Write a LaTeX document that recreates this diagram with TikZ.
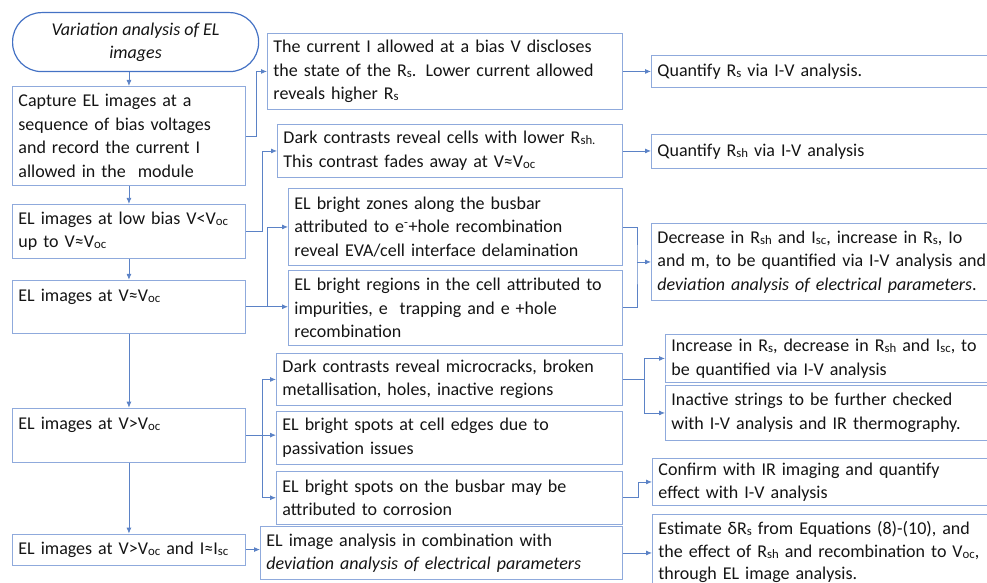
\documentclass[tikz,border=0pt]{standalone}
\usepackage{fontspec}
\setmainfont{Carlito}
\usepackage{xcolor}
\usepackage{tikz}
\usetikzlibrary{arrows.meta, positioning, calc}
\definecolor{termblue}{RGB}{68, 114, 196}
\definecolor{boxblue}{RGB}{143, 170, 220}
\definecolor{linkblue}{RGB}{91, 130, 198}
\definecolor{inkgray}{RGB}{20, 20, 20}
\newcommand{\lo}[1]{\raisebox{-0.1ex}{\fontsize{12.8}{12.8}\selectfont #1}}
\hyphenpenalty=10000
\exhyphenpenalty=10000

\begin{document}
\begin{tikzpicture}[
    x=1pt, y=-1pt,
    every node/.style={font=\fontsize{18}{23.5}\selectfont, text=inkgray},
    terminal/.style={rectangle, draw=termblue, line width=1.2pt, rounded corners=29pt, minimum width=246pt, minimum height=59pt, align=center, font=\fontsize{18}{23.5}\selectfont\itshape},
    block/.style={rectangle, draw=boxblue, line width=0.9pt, inner xsep=6pt, inner ysep=6pt, align=left},
    leftbox/.style={block, text width=221pt, minimum height=#1},
    arrow/.style={-{Latex[length=6pt, width=5pt]}, linkblue, line width=0.8pt},
    link/.style={linkblue, line width=0.8pt}
]
\useasboundingbox (0,0) rectangle (987,583);
\clip (0,0) rectangle (987,583);
\node[terminal, anchor=north west] (start) at (12,12) {Variation analysis of EL\\images};
\node[leftbox=99pt, anchor=north west] (capture) at (12,86) {Capture EL images at a\\sequence of bias voltages\\and record the current I\\allowed in the\ \ module};
\node[leftbox=54pt, below=18pt of capture] (lowbias) {EL images at low bias V<V\lo{oc}\\up to V≈V\lo{oc}};
\node[leftbox=53pt, below=21pt of lowbias] (atvoc) {EL images at V≈V\lo{oc}\\\mbox{}};
\node[leftbox=54pt, below=74pt of atvoc] (abovevoc) {EL images at V>V\lo{oc}\\\mbox{}};
\node[leftbox=31pt, below=71pt of abovevoc] (atisc) {EL images at V>V\lo{oc} and I≈I\lo{sc}};
\node[block, text width=343pt, minimum height=76pt, anchor=north west] (rsstate) at (267,33) {The current I allowed at a bias V discloses\\the state of the R\lo{s}. Lower current allowed\\reveals higher R\lo{s}};
\node[block, text width=333pt, minimum height=53pt, anchor=north west] (rshdark) at (277,124) {Dark contrasts reveal cells with lower R\lo{sh.}\\This contrast fades away at V≈V\lo{oc}};
\node[block, text width=322pt, minimum height=77pt, anchor=north west] (busbarzone) at (288,188) {EL bright zones along the busbar\\attributed to e\textsuperscript{-}+hole recombination\\reveal EVA/cell interface delamination};
\node[block, text width=322pt, minimum height=75pt, below=4pt of busbarzone] (cellregion) {EL bright regions in the cell attributed to\\impurities, e\ \ trapping and e +hole\\recombination};
\node[block, text width=334pt, minimum height=52pt, anchor=north west] (cracks) at (276,353) {Dark contrasts reveal microcracks, broken\\metallisation, holes, inactive regions};
\node[block, text width=334pt, minimum height=53pt, below=5pt of cracks] (edges) {EL bright spots at cell edges due to\\passivation issues};
\node[block, text width=334pt, minimum height=53pt, below=6pt of edges] (corrosion) {EL bright spots on the busbar may be\\attributed to corrosion};
\node[block, text width=350pt, minimum height=53pt, anchor=north west] (combined) at (260,526) {EL image analysis in combination with\\\textit{deviation analysis of electrical parameters}};
\node[block, text width=337pt, minimum height=32pt, anchor=north west] (qrs) at (651,55) {Quantify R\lo{s} via I-V analysis.};
\node[block, text width=337pt, minimum height=34pt, anchor=north west] (qrsh) at (651,134) {Quantify R\lo{sh} via I-V analysis};
\node[block, text width=337pt, minimum height=77pt, anchor=north west] (decrease) at (651,223) {Decrease in R\lo{sh} and I\lo{sc}, increase in R\lo{s}, Io\\and m, to be quantified via I-V analysis and\\\textit{deviation analysis of electrical parameters}.};
\node[block, text width=323pt, minimum height=48pt, inner ysep=3pt, anchor=north west] (increase) at (665,334) {Increase in R\lo{s}, decrease in R\lo{sh} and I\lo{sc}, to\\be quantified via I-V analysis};
\node[block, text width=323pt, minimum height=55pt, anchor=north west] (inactive) at (665,385) {Inactive strings to be further checked\\with I-V analysis and IR thermography.};
\node[block, text width=336pt, minimum height=47pt, inner ysep=3pt, anchor=north west] (confirm) at (652,458) {Confirm with IR imaging and quantify\\effect with I-V analysis};
\node[block, text width=336pt, minimum height=76pt, inner ysep=5pt, font=\fontsize{18}{22.5}\selectfont, anchor=north west] (estimate) at (652,514) {Estimate δR\lo{s} from Equations (8)-(10), and\\the effect of R\lo{sh} and recombination to V\lo{oc},\\through EL image analysis.};
\draw[arrow] (start.south -| capture) -- (capture);
\draw[arrow] (capture) -- (lowbias);
\draw[arrow] (lowbias) -- (atvoc);
\draw[arrow] (atvoc) -- (abovevoc);
\draw[arrow] (abovevoc) -- (atisc);
\draw[arrow] (capture.east) -- ++(10,0) |- (rsstate.west);
\draw[arrow] (lowbias.east) -- ++(16,0) |- (rshdark.west);
\coordinate (fork3) at ([xshift=21pt]atvoc.east);
\draw[arrow] (atvoc.east) -- (atvoc.east -| cellregion.west);
\draw[arrow] (fork3) |- (busbarzone.west);
\coordinate (fork4) at ([xshift=16pt]abovevoc.east);
\draw[arrow] (abovevoc.east) -- (abovevoc.east -| edges.west);
\draw[arrow] (fork4) |- (cracks.west);
\draw[arrow] (fork4) |- (corrosion.west);
\draw[arrow] (atisc.east) -- (atisc.east -| combined.west);
\draw[arrow] (rsstate.east) -- (rsstate.east -| qrs.west);
\draw[arrow] (rshdark.east) -- (rshdark.east -| qrsh.west);
\coordinate (join3) at ([xshift=-14pt]decrease.west);
\draw[link] (busbarzone.east) -| (join3) |- (cellregion.east);
\draw[arrow] (join3) -- (decrease.west);
\coordinate (fork5) at ([xshift=21pt]cracks.east);
\draw[arrow] (cracks.east) -- (fork5) |- (increase.west);
\draw[arrow] (fork5) |- (inactive.west);
\draw[arrow] (corrosion.east) -- ++(15,0) |- (confirm.west);
\draw[arrow] (combined.east) -- (combined.east -| estimate.west);
\end{tikzpicture}
\end{document}
